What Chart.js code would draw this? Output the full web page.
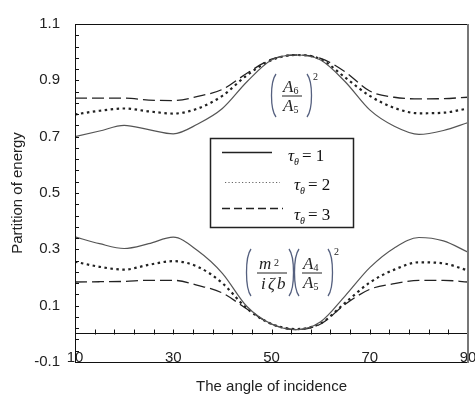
<!DOCTYPE html>
<html>
<head>
<meta charset="utf-8">
<script src="https://cdn.jsdelivr.net/npm/chart.js@4.4.0/dist/chart.umd.min.js"></script>
<style>
html, body { margin: 0; padding: 0; background: #fff; }
</style>
</head>
<body>
<canvas id="chart" width="475" height="398"></canvas>
<script>
// angle of incidence (degrees)
const angles = [10, 15, 20, 25, 30, 35, 40, 45, 50, 55, 60, 65, 70, 75, 80, 85, 90];

// (A6/A5)^2
const upperTau1 = [0.700, 0.720, 0.740, 0.725, 0.710, 0.745, 0.800, 0.895, 0.972, 0.990, 0.972, 0.895, 0.795, 0.737, 0.708, 0.722, 0.750];
const upperTau2 = [0.779, 0.792, 0.800, 0.790, 0.782, 0.800, 0.845, 0.918, 0.972, 0.990, 0.975, 0.910, 0.845, 0.802, 0.783, 0.785, 0.800];
const upperTau3 = [0.837, 0.837, 0.837, 0.830, 0.828, 0.843, 0.868, 0.925, 0.975, 0.990, 0.978, 0.930, 0.862, 0.840, 0.834, 0.835, 0.840];

// (m2/i zeta b)(A4/A5)^2
const lowerTau1 = [0.344, 0.320, 0.303, 0.320, 0.343, 0.295, 0.215, 0.097, 0.035, 0.015, 0.043, 0.135, 0.235, 0.305, 0.342, 0.330, 0.290];
const lowerTau2 = [0.256, 0.238, 0.228, 0.245, 0.258, 0.238, 0.180, 0.090, 0.035, 0.017, 0.037, 0.110, 0.182, 0.228, 0.254, 0.250, 0.225];
const lowerTau3 = [0.184, 0.185, 0.186, 0.190, 0.190, 0.172, 0.145, 0.088, 0.035, 0.015, 0.035, 0.105, 0.158, 0.178, 0.190, 0.190, 0.184];

const xMin = 10, xMax = 90, xStep = 4, xLabelStep = 20;
const yMin = -0.1, yMax = 1.1, yStep = 0.04, yLabelEvery = 5;

const legendLabels = ['1', '2', '3'];

const styles = {
	solid:  { color: '#555', width: 1.2, dash: [] },
	dotted: { color: '#222', width: 2.2, dash: [2.5, 3.5] },
	dashed: { color: '#222', width: 1.3, dash: [12, 5] }
};

function series(data, st)
{
	return {
		data: data,
		borderColor: st.color,
		borderWidth: st.width,
		borderDash: st.dash,
		pointRadius: 0,
		fill: false,
		cubicInterpolationMode: 'monotone'
	};
}

function makeTicks(min, max, step)
{
	let list = [];
	const n = Math.round((max - min) / step);
	for (let i = 0; i <= n; i++)
		list.push({ value: +(min + i * step).toFixed(4) });
	return list;
}

const serif = '"Liberation Serif", "DejaVu Serif", serif';

function drawTau(ctx, x, y, num)
{
	ctx.font = 'italic 17px ' + serif;
	ctx.fillText('\u03C4', x, y);
	let w = ctx.measureText('\u03C4').width;
	ctx.font = 'italic 10px ' + serif;
	ctx.fillText('\u03B8', x + w, y + 4);
	w += ctx.measureText('\u03B8').width + 3;
	ctx.font = '17px ' + serif;
	ctx.fillText('= ' + num, x + w, y);
}

function paren(ctx, x, y1, y2, dir)
{
	ctx.beginPath();
	ctx.moveTo(x, y1);
	ctx.bezierCurveTo(x - dir * 6, y1 + 8, x - dir * 6, y2 - 8, x, y2);
	ctx.stroke();
}

function fracA(ctx, x, yBar, top, bottom)
{
	ctx.font = 'italic 17px ' + serif;
	ctx.fillText('A', x + 1, yBar - 4);
	ctx.fillText('A', x + 1, yBar + 15);
	let w = ctx.measureText('A').width;
	ctx.font = '10px ' + serif;
	ctx.fillText(top, x + 1 + w, yBar - 2);
	ctx.fillText(bottom, x + 1 + w, yBar + 17);
	ctx.fillRect(x, yBar - 0.5, 20, 1);
}

function seg(ctx, x1, y1, x2, y2)
{
	ctx.beginPath();
	ctx.moveTo(x1, y1);
	ctx.lineTo(x2, y2);
	ctx.stroke();
}

const frameAndNotes = {
	id: 'frameAndNotes',
	afterDatasetsDraw(chart)
	{
		const ctx = chart.ctx;
		const a = chart.chartArea;
		const ys = chart.scales.y;
		const xz = chart.scales.xz;
		ctx.save();

		// inward tick marks on the left axis and on the zero line
		ctx.strokeStyle = '#111';
		ctx.lineWidth = 1;
		ys.ticks.forEach(t =>
		{
			const py = Math.round(ys.getPixelForValue(t.value)) + 0.5;
			seg(ctx, a.left, py, a.left + 4, py);
		});
		const y0 = Math.round(ys.getPixelForValue(0)) + 0.5;
		xz.ticks.forEach(t =>
		{
			const px = Math.round(xz.getPixelForValue(t.value)) + 0.5;
			seg(ctx, px, y0, px, y0 - 5);
		});

		// plot frame
		ctx.beginPath();
		ctx.moveTo(a.right, a.top + 0.5);
		ctx.lineTo(a.left + 0.5, a.top + 0.5);
		ctx.lineTo(a.left + 0.5, a.bottom + 0.5);
		ctx.lineTo(a.right, a.bottom + 0.5);
		ctx.stroke();
		ctx.strokeStyle = '#777';
		ctx.lineWidth = 2;
		seg(ctx, a.right, a.top, a.right, a.bottom + 1);

		// legend box
		ctx.fillStyle = '#fff';
		ctx.fillRect(210, 138, 143, 89);
		ctx.strokeStyle = '#222';
		ctx.lineWidth = 1.5;
		ctx.strokeRect(210.5, 138.5, 143, 89);

		const rows = [
			{ y: 152, x1: 222, x2: 272, tx: 288, ty: 161, dash: [] },
			{ y: 182, x1: 225, x2: 280, tx: 294, ty: 190, dash: [1.2, 2.2] },
			{ y: 208, x1: 222, x2: 283, tx: 294, ty: 220, dash: [8, 4] }
		];
		rows.forEach((r, i) =>
		{
			ctx.strokeStyle = i === 1 ? '#666' : '#222';
			ctx.lineWidth = i === 1 ? 1.2 : 1.3;
			ctx.setLineDash(r.dash);
			seg(ctx, r.x1, r.y + 0.5, r.x2, r.y + 0.5);
			ctx.setLineDash([]);
			ctx.fillStyle = '#111';
			drawTau(ctx, r.tx, r.ty, legendLabels[i]);
		});

		// (A6/A5)^2
		ctx.fillStyle = '#222';
		ctx.strokeStyle = '#55607f';
		ctx.lineWidth = 1.3;
		paren(ctx, 276, 74, 117, 1);
		paren(ctx, 307, 74, 117, -1);
		fracA(ctx, 282, 96, '6', '5');
		ctx.font = '10px ' + serif;
		ctx.fillText('2', 313, 80);

		// (m2/i zeta b)(A4/A5)^2
		paren(ctx, 251, 249, 296, 1);
		paren(ctx, 289, 249, 296, -1);
		paren(ctx, 299, 249, 296, 1);
		paren(ctx, 328, 249, 296, -1);
		ctx.font = 'italic 17px ' + serif;
		ctx.fillText('m', 259, 269);
		ctx.font = '10px ' + serif;
		ctx.fillText('2', 274, 266);
		ctx.fillRect(257, 272.5, 30, 1);
		ctx.font = 'italic 17px ' + serif;
		ctx.fillText('i', 261, 289);
		ctx.fillText('\u03B6', 268, 289);
		ctx.fillText('b', 277, 289);
		fracA(ctx, 302, 273, '4', '5');
		ctx.font = '10px ' + serif;
		ctx.fillText('2', 334, 255);

		ctx.restore();
	}
};

const ctx = document.getElementById('chart').getContext('2d');
Chart.defaults.font.family = '"Liberation Sans", Arial, sans-serif';
Chart.defaults.color = '#222';

new Chart(ctx,
{
	type: 'line',
	data:
	{
		labels: angles,
		datasets: [
			series(upperTau1, styles.solid),
			series(upperTau2, styles.dotted),
			series(upperTau3, styles.dashed),
			series(lowerTau1, styles.solid),
			series(lowerTau2, styles.dotted),
			series(lowerTau3, styles.dashed)
		]
	},
	options:
	{
		responsive: false,
		animation: false,
		layout: { padding: { top: 10, right: 7, left: 0, bottom: 0 } },
		plugins:
		{
			legend: { display: false },
			tooltip: { enabled: false }
		},
		scales:
		{
			x: {
				type: 'linear',
				min: xMin,
				max: xMax,
				position: 'bottom',
				grid: { display: false },
				border: { display: false },
				ticks: { display: false },
				title: {
					display: true,
					text: 'The angle of incidence',
					color: '#222',
					font: { size: 15 },
					padding: { top: 0, bottom: 2 }
				},
				afterFit: (scale) => { scale.height = 36; scale.paddingLeft = 0; scale.paddingRight = 0; }
			},
			xz: {
				type: 'linear',
				min: xMin,
				max: xMax,
				position: { y: 0 },
				afterBuildTicks: (scale) => { scale.ticks = makeTicks(xMin, xMax, xStep); },
				afterFit: (scale) => { scale.paddingLeft = 0; scale.paddingRight = 0; },
				grid: { display: false, drawTicks: false },
				border: { display: true, color: '#111', width: 1 },
				ticks: {
					autoSkip: false,
					maxRotation: 0,
					padding: 15,
					color: '#222',
					font: { size: 15 },
					callback: (v) => ((v - xMin) % xLabelStep === 0 ? String(v) : '')
				}
			},
			y: {
				type: 'linear',
				min: yMin,
				max: yMax,
				position: 'left',
				afterBuildTicks: (scale) => { scale.ticks = makeTicks(yMin, yMax, yStep); },
				grid: { display: false, drawTicks: false },
				border: { display: true, color: '#111', width: 1 },
				ticks: {
					autoSkip: false,
					padding: 15,
					color: '#222',
					font: { size: 15 },
					callback: (v, i) => (i % yLabelEvery === 0 ? (yMin + (i / yLabelEvery) * yStep * yLabelEvery).toFixed(1) : '')
				},
				title: {
					display: true,
					text: 'Partition of energy',
					color: '#222',
					font: { size: 15 },
					padding: { top: 9, bottom: 0 }
				},
				afterFit: (scale) => { scale.width = 75; }
			}
		}
	},
	plugins: [frameAndNotes]
});
</script>
</body>
</html>
